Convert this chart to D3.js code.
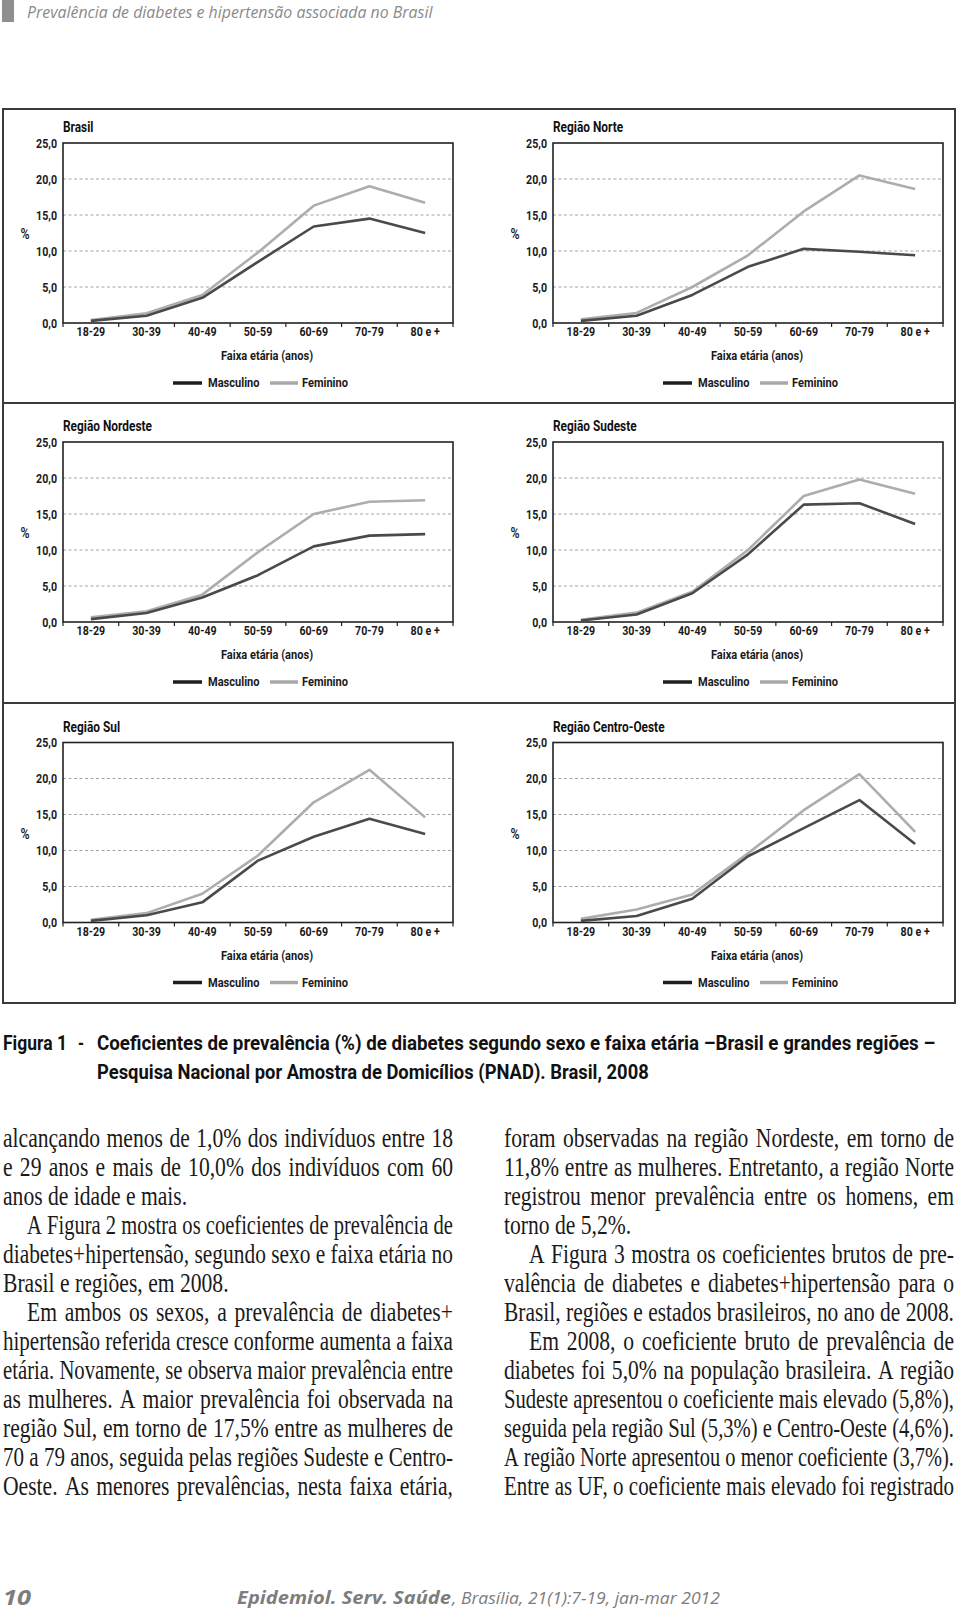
<!DOCTYPE html>
<html><head><meta charset="utf-8">
<script src="https://cdn.jsdelivr.net/npm/d3@7"></script>
<style>body{margin:0;background:#fff}svg{display:block}</style>
</head><body>
<svg id="c" width="960" height="1614"></svg>
<script>
// ---------- DATA ----------
const ageGroups = ["18-29","30-39","40-49","50-59","60-69","70-79","80 e +"];
const yTickValues = [0,5,10,15,20,25];
const yTickLabels = ["0,0","5,0","10,0","15,0","20,0","25,0"];
const seriesNames = ["Masculino","Feminino"];
const panelTitles = ["Brasil","Região Norte","Região Nordeste","Região Sudeste","Região Sul","Região Centro-Oeste"];
const brasilMasc   = [0.3,1.0,3.5,8.5,13.4,14.5,12.5];
const brasilFem    = [0.4,1.35,3.9,9.8,16.3,19.0,16.7];
const norteMasc    = [0.3,1.0,3.9,7.8,10.3,9.9,9.4];
const norteFem     = [0.5,1.4,5.0,9.4,15.5,20.5,18.6];
const nordesteMasc = [0.4,1.25,3.4,6.5,10.5,12.0,12.2];
const nordesteFem  = [0.65,1.5,3.8,9.7,15.0,16.7,16.9];
const sudesteMasc  = [0.2,1.05,4.0,9.4,16.3,16.5,13.6];
const sudesteFem   = [0.3,1.3,4.2,10.0,17.5,19.8,17.8];
const sulMasc      = [0.23,1.0,2.8,8.6,11.9,14.4,12.3];
const sulFem       = [0.37,1.3,4.0,9.3,16.7,21.2,14.6];
const coMasc       = [0.23,0.9,3.3,9.2,13.1,17.0,10.9];
const coFem        = [0.5,1.8,3.9,9.6,15.6,20.6,12.6];
const panelMasc = [brasilMasc,norteMasc,nordesteMasc,sudesteMasc,sulMasc,coMasc];
const panelFem  = [brasilFem,norteFem,nordesteFem,sudesteFem,sulFem,coFem];

const headerText = "Prevalência de diabetes e hipertensão associada no Brasil";
const captionLabel = "Figura 1";
const captionLine1 = "Coeficientes de prevalência (%) de diabetes segundo sexo e faixa etária –Brasil e grandes regiões –";
const captionLine2 = "Pesquisa Nacional por Amostra de Domicílios (PNAD). Brasil, 2008";
const bodyLeft = [
 ["alcançando menos de 1,0% dos indivíduos entre 18",0,1],
 ["e 29 anos e mais de 10,0% dos indivíduos com 60",0,1],
 ["anos de idade e mais.",0,0],
 ["A Figura 2 mostra os coeficientes de prevalência de",1,1],
 ["diabetes+hipertensão, segundo sexo e faixa etária no",0,1],
 ["Brasil e regiões, em 2008.",0,0],
 ["Em ambos os sexos, a prevalência de diabetes+",1,1],
 ["hipertensão referida cresce conforme aumenta a faixa",0,1],
 ["etária. Novamente, se observa maior prevalência entre",0,1],
 ["as mulheres. A maior prevalência foi observada na",0,1],
 ["região Sul, em torno de 17,5% entre as mulheres de",0,1],
 ["70 a 79 anos, seguida pelas regiões Sudeste e Centro-",0,1],
 ["Oeste. As menores prevalências, nesta faixa etária,",0,1]
];
const bodyRight = [
 ["foram observadas na região Nordeste, em torno de",0,1],
 ["11,8% entre as mulheres. Entretanto, a região Norte",0,1],
 ["registrou menor prevalência entre os homens, em",0,1],
 ["torno de 5,2%.",0,0],
 ["A Figura 3 mostra os coeficientes brutos de pre-",1,1],
 ["valência de diabetes e diabetes+hipertensão para o",0,1],
 ["Brasil, regiões e estados brasileiros, no ano de 2008.",0,1],
 ["Em 2008, o coeficiente bruto de prevalência de",1,1],
 ["diabetes foi 5,0% na população brasileira. A região",0,1],
 ["Sudeste apresentou o coeficiente mais elevado (5,8%),",0,1],
 ["seguida pela região Sul (5,3%) e Centro-Oeste (4,6%).",0,1],
 ["A região Norte apresentou o menor coeficiente (3,7%).",0,1],
 ["Entre as UF, o coeficiente mais elevado foi registrado",0,1]
];
const footerPage = "10";
const footerJournal = "Epidemiol. Serv. Saúde";
const footerRest = ", Brasília, 21(1):7-19, jan-mar 2012";

// ---------- HELPERS ----------
const svg = d3.select("#c");
const CF = "Roboto, 'Open Sans', sans-serif";
const K = 0.82;
function condense(sel, k){
  sel.each(function(){
    const s = d3.select(this);
    const tx = +s.attr("x") || 0, ty = +s.attr("y") || 0;
    s.attr("x",0).attr("y",0).attr("transform",`translate(${tx},${ty}) scale(${k},1)`);
  });
}
function fitTo(sel, w){
  sel.each(function(){
    const s = d3.select(this);
    const L = this.getComputedTextLength();
    const tx = +s.attr("x") || 0, ty = +s.attr("y") || 0;
    s.attr("x",0).attr("y",0).attr("transform",`translate(${tx},${ty}) scale(${w/L},1)`);
  });
}

// ---------- HEADER ----------
svg.append("rect").attr("x",2).attr("y",0).attr("width",12).attr("height",22).attr("fill","#8f8f8f");
svg.append("text").attr("x",27).attr("y",18).text(headerText)
  .attr("font-family","'Open Sans', sans-serif").attr("font-style","italic").attr("font-size",16)
  .attr("fill","#8a8a8a").call(fitTo,406);

// ---------- FRAME ----------
svg.append("rect").attr("x",3).attr("y",109).attr("width",952).attr("height",894)
  .attr("fill","none").attr("stroke","#3a3a3a").attr("stroke-width",2);
[403,703].forEach(y=>svg.append("line").attr("x1",3).attr("x2",955).attr("y1",y).attr("y2",y)
  .attr("stroke","#3a3a3a").attr("stroke-width",2));

// ---------- PANELS ----------
const PW = 390, PH = 180;
const colX = [63,553];
const rowY = [143,442,742.5];
const x = d3.scaleBand().domain(ageGroups).range([0,PW]).paddingInner(0).paddingOuter(0);
const y = d3.scaleLinear().domain([0,25]).range([PH,0]);
const colors = {Masculino:"#4a4a4a", Feminino:"#adadad"};
const swatch = {Masculino:"#1e1e1e", Feminino:"#a8a8a8"};
const line = d3.line().x((d,i)=>x(ageGroups[i])+x.bandwidth()/2).y(d=>y(d));

panelTitles.forEach((title,p)=>{
  const gx = colX[p%2], gy = rowY[Math.floor(p/2)];
  const g = svg.append("g").attr("transform",`translate(${gx},${gy})`);
  g.selectAll("line.grid").data(yTickValues.filter(v=>v>0&&v<25)).join("line")
    .attr("x1",0).attr("x2",PW).attr("y1",d=>y(d)).attr("y2",d=>y(d))
    .attr("stroke","#9a9a9a").attr("stroke-width",0.9).attr("stroke-dasharray","3,2.5");
  const ya = g.append("g").call(d3.axisLeft(y).tickValues(yTickValues).tickSize(0).tickPadding(6)
      .tickFormat((d,i)=>yTickLabels[i]));
  ya.select(".domain").remove();
  ya.selectAll("text").attr("font-family",CF).attr("font-weight",700).attr("font-size",13)
    .attr("fill","#1a1a1a").call(condense,K);
  const xa = g.append("g").attr("transform",`translate(0,${PH})`).call(d3.axisBottom(x).tickSize(0).tickPadding(0));
  xa.select(".domain").remove();
  xa.selectAll("text").attr("y",4).attr("dy","0.71em").attr("font-family",CF).attr("font-weight",700)
    .attr("font-size",13).attr("fill","#1a1a1a").call(condense,K);
  g.selectAll("line.xt").data(d3.range(ageGroups.length+1)).join("line")
    .attr("x1",i=>i*x.step()).attr("x2",i=>i*x.step()).attr("y1",PH).attr("y2",PH+4)
    .attr("stroke","#222").attr("stroke-width",1.2);
  g.append("rect").attr("x",0).attr("y",0).attr("width",PW).attr("height",PH)
    .attr("fill","none").attr("stroke","#222").attr("stroke-width",1.6);
  [panelFem[p], panelMasc[p]].forEach((vals,j)=>{
    const name = j===0 ? seriesNames[1] : seriesNames[0];
    g.append("path").datum(vals).attr("d",line).attr("fill","none")
      .attr("stroke",colors[name]).attr("stroke-width",2.6).attr("stroke-linejoin","round");
  });
  g.append("text").attr("x",0).attr("y",-11).text(title).attr("font-family",CF).attr("font-weight",700)
    .attr("font-size",14.5).attr("fill","#111").call(condense,K);
  g.append("text").attr("x",-38).attr("y",96).attr("text-anchor","middle").text("%")
    .attr("font-family",CF).attr("font-weight",600).attr("font-size",14.5).attr("fill","#222").call(condense,0.85);
  g.append("text").attr("x",204).attr("y",217).attr("text-anchor","middle").text("Faixa etária (anos)")
    .attr("font-family",CF).attr("font-weight",700).attr("font-size",13.5).attr("fill","#1a1a1a").call(condense,K);
  const lg = [{n:seriesNames[0],x1:110,x2:139,tx:145},{n:seriesNames[1],x1:207,x2:235,tx:239}];
  lg.forEach(l=>{
    g.append("line").attr("x1",l.x1).attr("x2",l.x2).attr("y1",240).attr("y2",240)
      .attr("stroke",swatch[l.n]).attr("stroke-width",3.5);
    g.append("text").attr("x",l.tx).attr("y",244).text(l.n).attr("font-family",CF).attr("font-weight",700)
      .attr("font-size",13.5).attr("fill","#1a1a1a").call(condense,K);
  });
});

// ---------- CAPTION ----------
function capText(t,xx,yy,w){
  return svg.append("text").attr("x",xx).attr("y",yy).text(t).attr("font-family",CF)
    .attr("font-weight",700).attr("font-size",20).attr("fill","#111").call(fitTo,w);
}
capText(captionLabel,3,1050,64);
capText("-",78,1050,6);
capText(captionLine1,97,1050,839);
capText(captionLine2,97,1079,552);

// ---------- BODY TEXT ----------
const BF = "'Liberation Serif', 'DejaVu Serif', serif";
const BFS = 27, SX0 = 0.8;
const measure = svg.append("text").attr("font-family",BF).attr("font-size",BFS).text("a a");
const wSp = measure.node().getComputedTextLength();
measure.text("aa");
const spaceW = wSp - measure.node().getComputedTextLength();
measure.remove();
function drawColumn(lines, x0, width, indent){
  lines.forEach((ln,i)=>{
    const [str, ind, just] = ln;
    const xs = x0 + (ind?indent:0), w = width - (ind?indent:0), yy = 1147 + 29*i;
    const grp = svg.append("g");
    const words = str.split(" ");
    const ts = words.map(wd=>grp.append("text").text(wd).attr("font-family",BF).attr("font-size",BFS).attr("fill","#1a1a1a"));
    const ws = ts.map(t=>t.node().getComputedTextLength());
    const S = d3.sum(ws), n = words.length;
    let sx = SX0, gap = spaceW;
    if (just && n>1){
      const nat = (S + spaceW*(n-1))*SX0;
      if (nat > w){ sx = w/(S+spaceW*(n-1)); gap = spaceW; }
      else { gap = (w/SX0 - S)/(n-1); }
    }
    grp.attr("transform",`translate(${xs},${yy}) scale(${sx},1)`);
    let cx = 0; ts.forEach((t,k)=>{ t.attr("x",cx); cx += ws[k]+gap; });
  });
}
drawColumn(bodyLeft, 3, 450, 24);
drawColumn(bodyRight, 504, 450, 25);

// ---------- FOOTER ----------
svg.append("text").attr("x",3).attr("y",1605).text(footerPage).attr("font-family","'Open Sans', sans-serif")
  .attr("font-style","italic").attr("font-weight",700).attr("font-size",21).attr("fill","#7d7d7d").call(fitTo,28);
svg.append("text").attr("x",237).attr("y",1604).text(footerJournal).attr("font-family","'Open Sans', sans-serif")
  .attr("font-style","italic").attr("font-weight",700).attr("font-size",17).attr("fill","#7d7d7d").call(fitTo,214);
svg.append("text").attr("x",452).attr("y",1604).text(footerRest).attr("font-family","'Open Sans', sans-serif")
  .attr("font-style","italic").attr("font-weight",400).attr("font-size",17).attr("fill","#7d7d7d").call(fitTo,268);
</script>
</body></html>
